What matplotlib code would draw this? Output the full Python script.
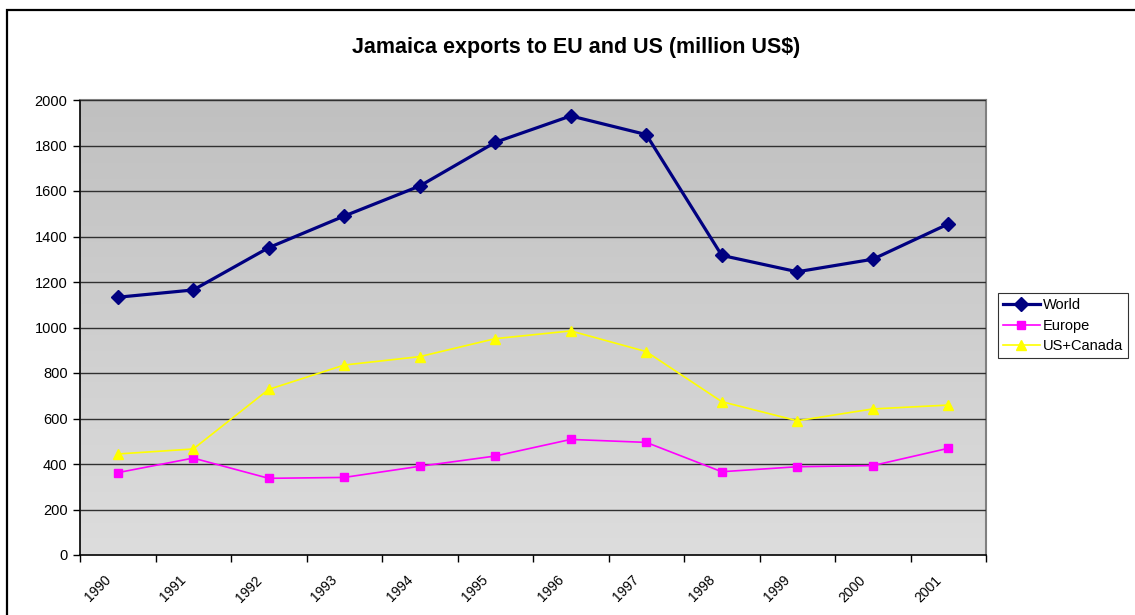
import numpy as np
import matplotlib
matplotlib.use("Agg")
import matplotlib.pyplot as plt
import matplotlib.transforms as mtransforms
from matplotlib.patches import Rectangle

plt.rcParams["font.family"] = ["Liberation Sans", "DejaVu Sans"]

years = ["1990", "1991", "1992", "1993", "1994", "1995",
         "1996", "1997", "1998", "1999", "2000", "2001"]
world = [1133, 1165, 1351, 1490, 1622, 1814, 1930, 1848, 1317, 1245, 1300, 1455]
europe = [362, 426, 337, 341, 390, 435, 508, 495, 366, 388, 393, 469]
us_canada = [444, 466, 728, 835, 872, 951, 985, 894, 674, 590, 642, 659]

W, H = 1135, 615
fig = plt.figure(figsize=(W / 100, H / 100), dpi=100)

# chart frame (runs off the right and bottom edges)
fig.patches.append(Rectangle((6.5 / W, -0.1), 1.2, 1 - 9.5 / H + 0.1,
                             transform=fig.transFigure, fill=False,
                             edgecolor="black", linewidth=1.6, zorder=0))

ax = fig.add_axes([80 / W, 1 - 555 / H, 906 / W, 455 / H])

x = np.arange(len(years))
n = len(years)

# vertical grey gradient behind the plot, darker at the top
grad = np.linspace(192, 221, 256)[:, None] / 255.0
ax.imshow(np.dstack([grad, grad, grad]), extent=(-0.5, n - 0.5, 0, 2000),
          origin="upper", aspect="auto", zorder=0, interpolation="bilinear")
ax.set_xlim(-0.5, n - 0.5)
ax.set_ylim(0, 2000)

ax.set_yticks(range(0, 2001, 200))
ax.yaxis.grid(True, color="#303030", linewidth=1.0)
ax.set_axisbelow(False)
for gl in ax.get_ygridlines():
    gl.set_zorder(1)

ax.plot(x, world, color="#000080", linewidth=2.3, marker="D", markersize=7,
        label="World", zorder=4)
ax.plot(x, europe, color="#FF00FF", linewidth=1.2, marker="s", markersize=6,
        label="Europe", zorder=3)
ax.plot(x, us_canada, color="#FFFF00", linewidth=1.2, marker="^", markersize=7,
        label="US+Canada", zorder=3)

# category labels at centres, tick marks on the boundaries
ax.set_xticks(x)
ax.set_xticklabels(years, rotation=45, ha="right", rotation_mode="anchor", fontsize=10)
ax.tick_params(axis="x", which="major", length=0, pad=13)
shift = mtransforms.ScaledTranslation(-0.14, 0.0, fig.dpi_scale_trans)
for lbl in ax.get_xticklabels():
    lbl.set_transform(lbl.get_transform() + shift)
ax.set_xticks(np.arange(-0.5, n), minor=True)
ax.tick_params(axis="x", which="minor", length=5, width=1, color="black")
ax.tick_params(axis="y", length=5, width=1, labelsize=10.5, pad=4)

for side in ("left", "bottom"):
    ax.spines[side].set_color("black")
    ax.spines[side].set_linewidth(1.2)
for side in ("top", "right"):
    ax.spines[side].set_color("#808080")
    ax.spines[side].set_linewidth(1.5)

fig.text(576 / W, 1 - 48 / H, "Jamaica exports to EU and US (million US$)",
         ha="center", va="center", fontsize=15.5, fontweight="bold")

leg = fig.legend(loc="upper left", bbox_to_anchor=(998 / W, 1 - 293 / H),
                 fontsize=10.5, frameon=True, fancybox=False, handlelength=2.5,
                 borderpad=0.35, labelspacing=0.45, handletextpad=0.2,
                 borderaxespad=0)
leg.get_frame().set_edgecolor("black")
leg.get_frame().set_linewidth(0.8)

fig.savefig("out.png", dpi=100)
